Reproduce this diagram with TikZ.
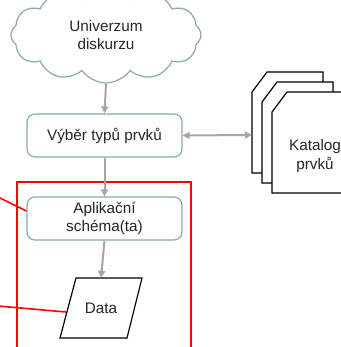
\documentclass[tikz,border=0pt]{standalone}
\usepackage{fontspec}
\setmainfont{Liberation Sans}
\usetikzlibrary{shapes.symbols,arrows.meta}
\definecolor{boxc}{RGB}{140,168,174}
\definecolor{arrc}{RGB}{166,166,166}
\begin{document}
\begin{tikzpicture}[x=1pt,y=-1pt,
  txt/.style={font=\fontsize{15.3}{18.5}\selectfont, align=center, text=black!85},
  procbox/.style={txt, draw=boxc, line width=1.2pt, rounded corners=8pt, minimum width=155pt, minimum height=43pt, fill=white},
  flow/.style={draw=arrc, line width=2pt, -{Triangle[length=7pt,width=7pt]}},
  doc/.style={draw=black, line width=1.2pt, fill=white},
  redl/.style={draw=red, line width=1.6pt}]
\useasboundingbox (0,0) rectangle (340,347);
% cloud
\node[txt, cloud, cloud puffs=12, cloud puff arc=110, cloud ignores aspect, draw=boxc, line width=1.2pt,
  minimum width=190pt, minimum height=96pt] (uni) at (106,35) {Univerzum\\diskurzu};
% red frame
\draw[redl] (17,360) -- (17,182) -- (191,182) -- (191,360);
% boxes
\node[procbox] (vyber) at (104.5,135.5) {Výběr typů prvků};
\node[procbox] (apl) at (104.5,218.5) {Aplikační\\schéma(ta)};
% data
\node[txt, minimum height=60pt, minimum width=66pt, inner sep=0pt] (data) at (101,308) {Data};
\draw[line width=1.2pt] (76,278) -- (142,278) -- (127,338) -- (60,338) -- cycle;
% catalog stack
\draw[doc] (252,92) -- (267,72) -- (323,72) -- (323,173) -- (252,173) -- cycle;
\draw[doc] (262,102) -- (277,82) -- (333,82) -- (333,183) -- (262,183) -- cycle;
\draw[doc] (272,112) -- (287,92) -- (345,92) -- (345,193) -- (272,193) -- cycle;
\node[txt] (kat) at (315,156) {Katalog\\prvků};
\coordinate (katin) at (252,135);
% arrows
\draw[flow] (uni.south) -- (vyber.north);
\draw[flow] (vyber.south) -- (apl.north);
\draw[flow] (apl.south) -- (data.north);
\draw[flow, {Triangle[length=7pt,width=7pt]}-{Triangle[length=7pt,width=7pt]}] (vyber.east) -- (katin);
% red pointers
\coordinate (r1) at (-2,197);
\coordinate (r2) at (-2,306);
\draw[redl] (r1) -- (apl.west |- 0,211);
\draw[redl] (r2) -- (66,312);
\end{tikzpicture}
\end{document}
